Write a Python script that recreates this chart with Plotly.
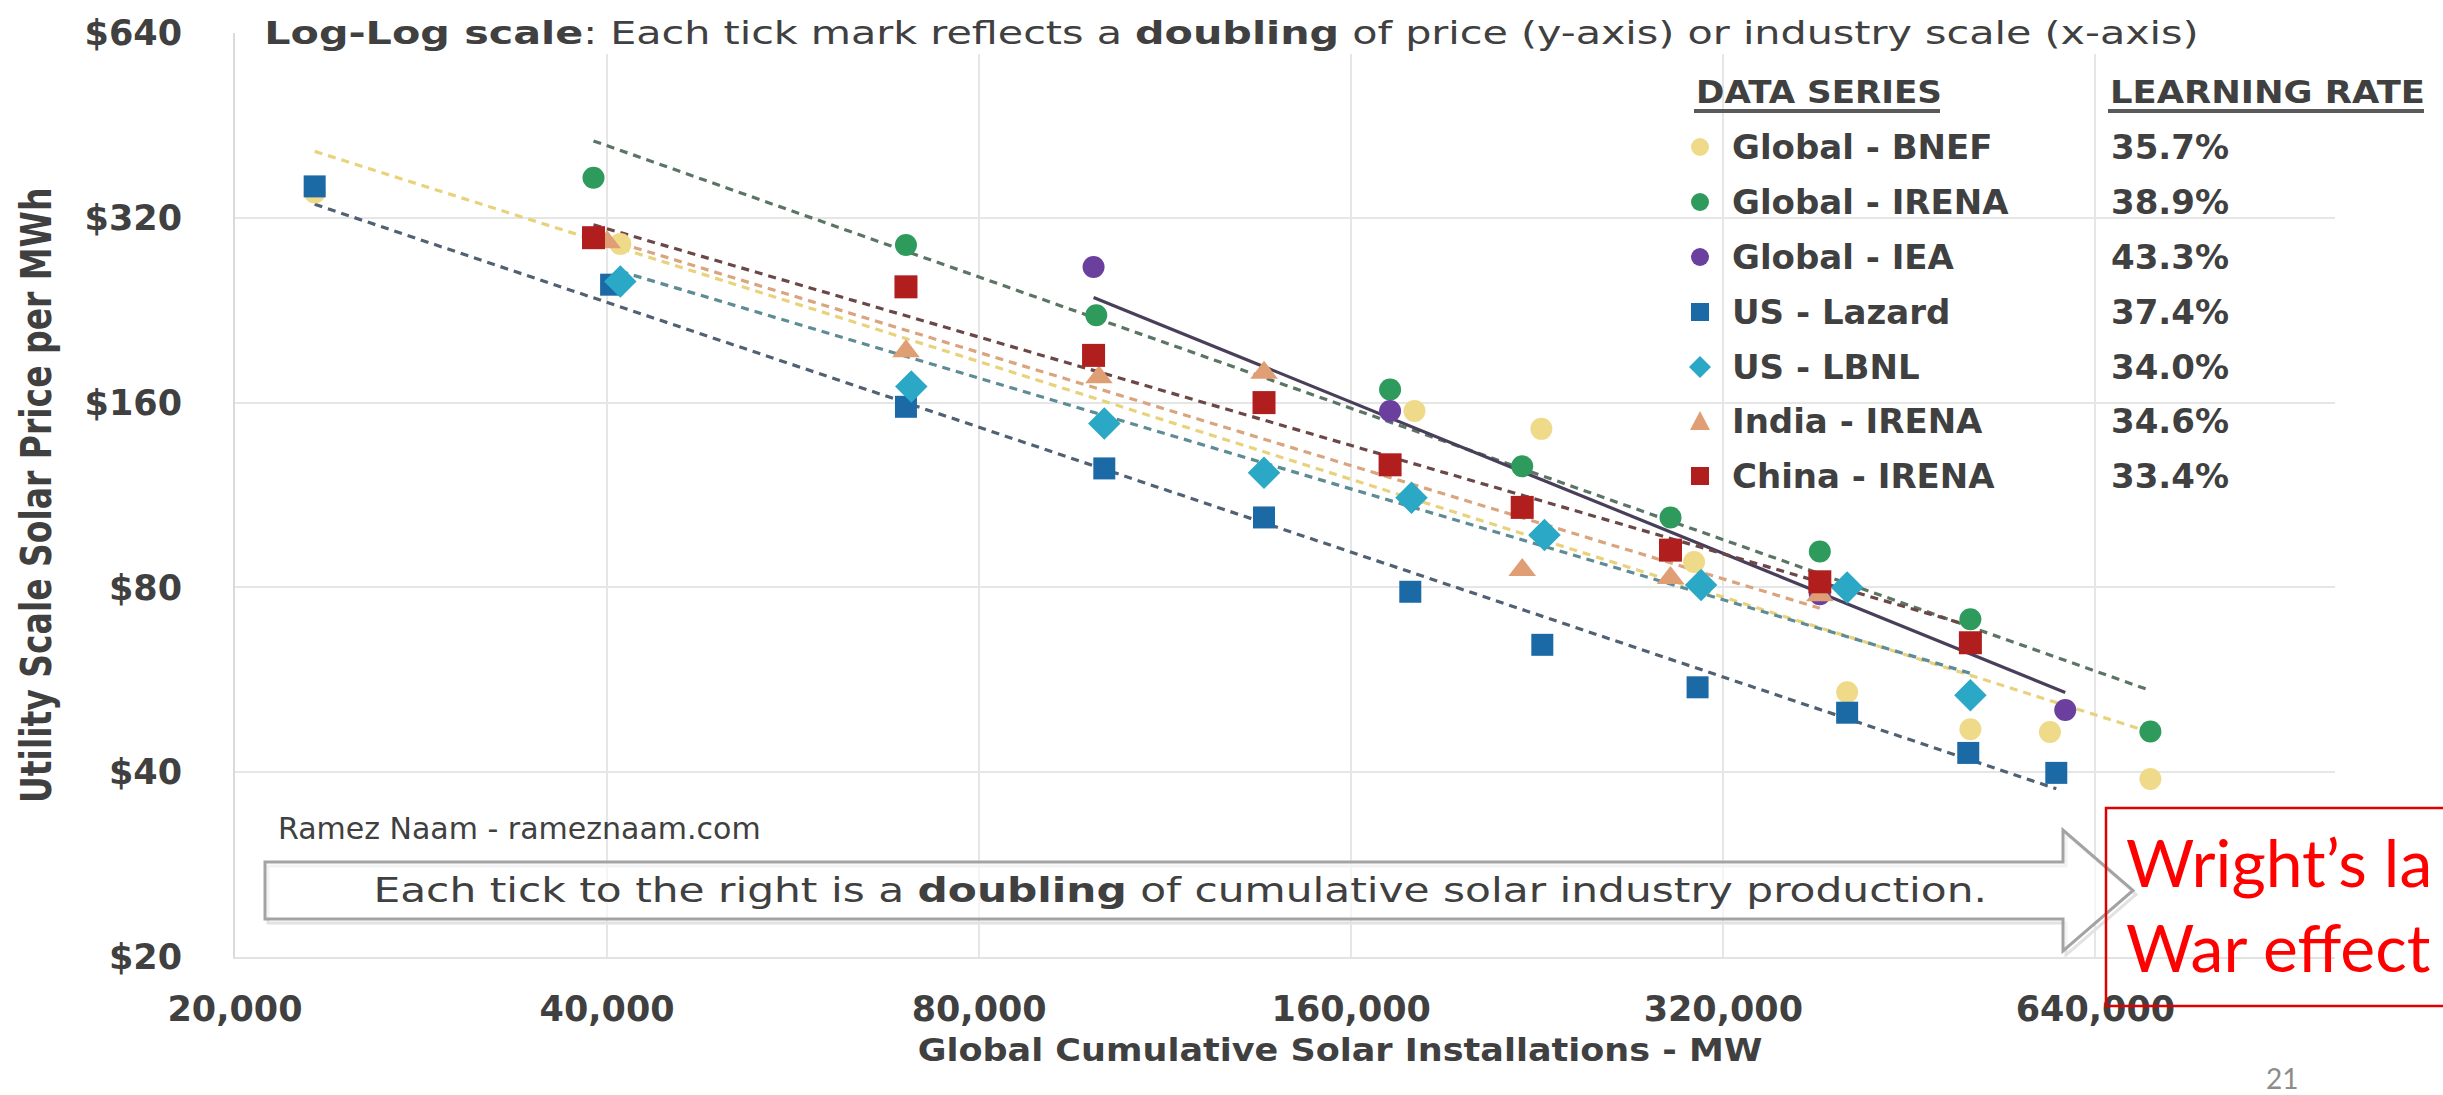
import json
import math
import plotly.graph_objects as go

# ---------------------------------------------------------------------------
# Utility-scale solar price vs. global cumulative installations (log-log)
# ---------------------------------------------------------------------------
series_names = ["Global - BNEF", "Global - IRENA", "Global - IEA", "US - Lazard",
                "US - LBNL", "India - IRENA", "China - IRENA"]
learning_rates = [0.357, 0.389, 0.433, 0.374, 0.340, 0.346, 0.334]

# Global cumulative solar installations (MW) for each price observation
bnef_mw = [23200, 41000, 180000, 228000, 303000, 403000, 507000, 588000, 709000]
irena_mw = [39000, 69800, 99500, 172000, 220000, 290000, 383000, 507000, 709000]
iea_mw = [99000, 172000, 290000, 383000, 605000]
lazard_mw = [23200, 40300, 69800, 101000, 136000, 178600, 228400, 305000, 403000, 505000, 595000]
lbnl_mw = [41000, 70500, 101000, 136000, 179000, 229300, 307000, 403000, 507000]
india_mw = [40000, 69800, 100000, 136000, 220000, 290000, 383000]
china_mw = [39000, 69800, 99000, 136000, 172000, 220000, 290000, 383000, 507000]

# Utility-scale solar price ($/MWh)
bnef_price = [352, 290, 155, 145, 88, 54, 47, 46.5, 39]
irena_price = [372, 289, 222, 168, 126, 104, 91.5, 71, 46.6]
iea_price = [266, 155, 92, 78, 50.5]
lazard_price = [360, 249, 157.5, 125, 104, 78.7, 64.5, 55, 50, 43, 39.9]
lbnl_price = [252, 170, 148, 123, 112, 97.4, 80.7, 80, 53.4]
india_price = [292, 194, 176, 179, 85.4, 82.9, 77.7]
china_price = [297, 247, 191, 160, 126.7, 108, 92, 81.7, 65]

# Axis ticks: every tick is a doubling
x_tick_vals = [20000, 40000, 80000, 160000, 320000, 640000]
x_tick_text = ["20,000", "40,000", "80,000", "160,000", "320,000", "640,000"]
y_tick_vals = [20, 40, 80, 160, 320, 640]
y_tick_text = ["$20", "$40", "$80", "$160", "$320", "$640"]
x_axis_min, x_axis_max = 20000, 1000000
y_axis_min, y_axis_max = 20, 640

series_mw = [bnef_mw, irena_mw, iea_mw, lazard_mw, lbnl_mw, india_mw, china_mw]
series_price = [bnef_price, irena_price, iea_price, lazard_price, lbnl_price, india_price, china_price]

marker_colors = ["#EEDA88", "#2E9A5C", "#6A3F9E", "#1B6AA6", "#2AA8C6", "#E09E74", "#B01E1E"]
marker_symbols = ["circle", "circle", "circle", "square", "diamond", "triangle-up", "square"]
marker_sizes = [22, 22, 22, 22, 25, 24, 23]
trend_colors = ["#E9D27C", "#5B7565", "#4A3F5A", "#4F6172", "#5E8C96", "#D9A47E", "#6B4747"]
trend_dashes = ["8px,6px", "8px,6px", "solid", "8px,6px", "8px,6px", "8px,6px", "8px,6px"]

FONT = "DejaVu Sans"
TEXT = "#404040"

FIG_W, FIG_H = 2443, 1095
ML, MR, MT, MB = 235, 108, 33, 138
PW, PH = FIG_W - ML - MR, FIG_H - MT - MB


def px(x):
    """pixel column -> paper x"""
    return (x - ML) / PW


def py(y):
    """pixel row -> paper y"""
    return (FIG_H - MB - y) / PH


def poly(points):
    return "M " + " L ".join(f"{px(a):.5f},{py(b):.5f}" for a, b in points) + " Z"


def power_trend(xs, ys, lr):
    """Wright's-law fit: slope fixed by the learning rate, intercept by least squares."""
    b = math.log2(1 - lr)
    lx = [math.log2(v) for v in xs]
    ly = [math.log2(v) for v in ys]
    a = sum(ly) / len(ly) - b * sum(lx) / len(lx)
    x0, x1 = min(xs), max(xs)
    return [x0, x1], [2 ** (a + b * math.log2(x0)), 2 ** (a + b * math.log2(x1))]


fig = go.Figure()

# trendlines first, markers on top
for name, xs, ys, lr, col, dash in zip(series_names, series_mw, series_price,
                                       learning_rates, trend_colors, trend_dashes):
    tx, ty = power_trend(xs, ys, lr)
    fig.add_trace(go.Scatter(x=tx, y=ty, mode="lines", showlegend=False, hoverinfo="skip",
                             line=dict(color=col, width=3.2, dash=dash)))

for name, xs, ys, col, sym, size in zip(series_names, series_mw, series_price,
                                        marker_colors, marker_symbols, marker_sizes):
    fig.add_trace(go.Scatter(x=xs, y=ys, mode="markers", name=name, showlegend=False,
                             marker=dict(color=col, symbol=sym, size=size, line=dict(width=0))))

annotations = []
shapes = []

# chart header sits in a white text box over the top gridline
shapes.append(dict(type="rect", xref="paper", yref="paper",
                   x0=px(252), x1=px(2205), y0=py(54), y1=py(12),
                   fillcolor="white", line=dict(width=0), layer="above"))
annotations.append(dict(
    text="<b>Log-Log scale</b>: Each tick mark reflects a <b>doubling</b> of price (y-axis) "
         "or industry scale (x-axis)",
    x=px(262), y=py(33), xref="paper", yref="paper", xanchor="left", yanchor="middle",
    showarrow=False, font=dict(family=FONT, size=32, color=TEXT)))

# axis titles
annotations.append(dict(
    text="<b>Utility Scale Solar Price per MWh</b>", textangle=-90,
    x=px(36), y=py(495), xref="paper", yref="paper", xanchor="center", yanchor="middle",
    showarrow=False, font=dict(family=FONT, size=33, color=TEXT)))
annotations.append(dict(
    text="<b>Global Cumulative Solar Installations - MW</b>",
    x=px(1340), y=py(1050), xref="paper", yref="paper", xanchor="center", yanchor="middle",
    showarrow=False, font=dict(family=FONT, size=32, color=TEXT)))

# credit + doubling arrow
annotations.append(dict(
    text="Ramez Naam - rameznaam.com",
    x=px(276), y=py(828), xref="paper", yref="paper", xanchor="left", yanchor="middle",
    showarrow=False, font=dict(family=FONT, size=30, color=TEXT)))
arrow_pts = [(265, 862), (2063, 862), (2063, 830), (2133, 890.5), (2063, 951), (2063, 919), (265, 919)]
shapes.append(dict(type="path", xref="paper", yref="paper", path=poly([(x + 3, y + 4) for x, y in arrow_pts]),
                   line=dict(color="#E2E2E2", width=3), fillcolor="rgba(0,0,0,0)", layer="above"))
shapes.append(dict(type="path", xref="paper", yref="paper", path=poly(arrow_pts),
                   line=dict(color="#A3A3A3", width=3), fillcolor="rgba(255,255,255,0.6)", layer="above"))
annotations.append(dict(
    text="Each tick to the right is a <b>doubling</b> of cumulative solar industry production.",
    x=px(1180), y=py(890), xref="paper", yref="paper", xanchor="center", yanchor="middle",
    showarrow=False, font=dict(family=FONT, size=33, color=TEXT)))

# legend table: headers
for label, left, right in [("DATA SERIES", 1694, 1940), ("LEARNING RATE", 2108, 2424)]:
    annotations.append(dict(
        text=f"<b>{label}</b>", x=px(left), y=py(92), xref="paper", yref="paper",
        xanchor="left", yanchor="middle", showarrow=False,
        font=dict(family=FONT, size=32, color=TEXT)))
    shapes.append(dict(type="line", xref="paper", yref="paper",
                       x0=px(left), x1=px(right), y0=py(111), y1=py(111),
                       line=dict(color="#5A5A5A", width=4)))

# legend table: rows
row_y = [147, 202, 257, 312, 367, 421, 476]
mx, r = 1700, 9
for name, lr, col, sym, yy in zip(series_names, learning_rates, marker_colors, marker_symbols, row_y):
    if sym in ("circle", "square"):
        shapes.append(dict(type="circle" if sym == "circle" else "rect", xref="paper", yref="paper",
                           x0=px(mx - r), x1=px(mx + r), y0=py(yy + r), y1=py(yy - r),
                           fillcolor=col, line=dict(width=0)))
    elif sym == "diamond":
        pts = [(mx, yy - r - 2), (mx + r + 2, yy), (mx, yy + r + 2), (mx - r - 2, yy)]
        shapes.append(dict(type="path", xref="paper", yref="paper", path=poly(pts),
                           fillcolor=col, line=dict(width=0)))
    else:
        pts = [(mx, yy - r - 1), (mx + r + 1, yy + r), (mx - r - 1, yy + r)]
        shapes.append(dict(type="path", xref="paper", yref="paper", path=poly(pts),
                           fillcolor=col, line=dict(width=0)))
    annotations.append(dict(
        text=f"<b>{name}</b>", x=px(1730), y=py(yy), xref="paper", yref="paper",
        xanchor="left", yanchor="middle", showarrow=False,
        font=dict(family=FONT, size=34, color=TEXT)))
    annotations.append(dict(
        text=f"<b>{lr * 100:.1f}%</b>", x=px(2109), y=py(yy), xref="paper", yref="paper",
        xanchor="left", yanchor="middle", showarrow=False,
        font=dict(family=FONT, size=34, color=TEXT)))

# slide call-out
shapes.append(dict(type="rect", xref="paper", yref="paper",
                   x0=px(2106), x1=px(2460), y0=py(1006), y1=py(808),
                   line=dict(color="#E00000", width=2.5), fillcolor="rgba(0,0,0,0)"))
for txt, yy in [("Wright’s la", 861), ("War effect", 946)]:
    annotations.append(dict(
        text=txt, x=px(2124), y=py(yy), xref="paper", yref="paper",
        xanchor="left", yanchor="middle", showarrow=False,
        font=dict(family="Lato", size=66, color="#FF0000")))
annotations.append(dict(
    text="21", x=px(2282), y=py(1078), xref="paper", yref="paper",
    xanchor="center", yanchor="middle", showarrow=False,
    font=dict(family="Lato", size=28, color="#8C8C8C")))

fig.update_layout(
    width=FIG_W, height=FIG_H,
    margin=dict(l=ML, r=MR, t=MT, b=MB, pad=0),
    paper_bgcolor="white", plot_bgcolor="white",
    showlegend=False,
    annotations=annotations, shapes=shapes,
    xaxis=dict(type="log", range=[math.log10(x_axis_min), math.log10(x_axis_max)],
               tickvals=x_tick_vals, ticktext=x_tick_text, ticks="",
               showgrid=True, gridcolor="#E6E6E6", gridwidth=2, zeroline=False,
               showline=True, linecolor="#E2E2E2", linewidth=2, automargin=False,
               ticklabelstandoff=20,
               tickfont=dict(family=FONT, size=35, color=TEXT, weight="bold")),
    yaxis=dict(type="log", range=[math.log10(y_axis_min), math.log10(y_axis_max)],
               tickvals=y_tick_vals, ticktext=y_tick_text, ticks="",
               showgrid=True, gridcolor="#E6E6E6", gridwidth=2, zeroline=False,
               showline=True, linecolor="#DADADA", linewidth=2, automargin=False,
               ticklabelstandoff=44,
               tickfont=dict(family=FONT, size=35, color=TEXT, weight="bold")),
)

# The chart's lettering is set wide: widen selected text runs.
#   "left"/"center": target width in px along the line, anchor kept fixed
#   "thick": factor applied across the line (for the rotated axis title)
text_widths = [
    ["Log-Log scale", 1935, "left"],
    ["Each tick to the right", 1614, "center"],
    ["Global Cumulative Solar", 845, "center"],
    ["DATA SERIES", 246, "left"],
    ["LEARNING RATE", 315, "left"],
    ["Utility Scale Solar", 1.3, "thick"],
]
widen_js = """
var gd = document.getElementById('{plot_id}');
var rules = RULES;
gd.querySelectorAll('text').forEach(function (t) {
  var s = t.textContent || '';
  for (var i = 0; i < rules.length; i++) {
    var r = rules[i];
    if (s.indexOf(r[0]) !== 0) continue;
    var bb = t.getBBox();
    if (!bb.width) return;
    var tr = t.getAttribute('transform') || '';
    var m;
    if (r[2] === 'thick') {
      var cy = bb.y + bb.height / 2;
      m = ' translate(0 ' + cy + ') scale(1 ' + r[1] + ') translate(0 ' + (-cy) + ')';
    } else {
      var k = r[1] / bb.width;
      var cx = r[2] === 'left' ? bb.x : bb.x + bb.width / 2;
      m = ' translate(' + cx + ' 0) scale(' + k + ' 1) translate(' + (-cx) + ' 0)';
    }
    t.setAttribute('transform', (tr + m).trim());
    return;
  }
});
""".replace("RULES", json.dumps(text_widths))

fig.write_html("out.html", post_script=widen_js)
